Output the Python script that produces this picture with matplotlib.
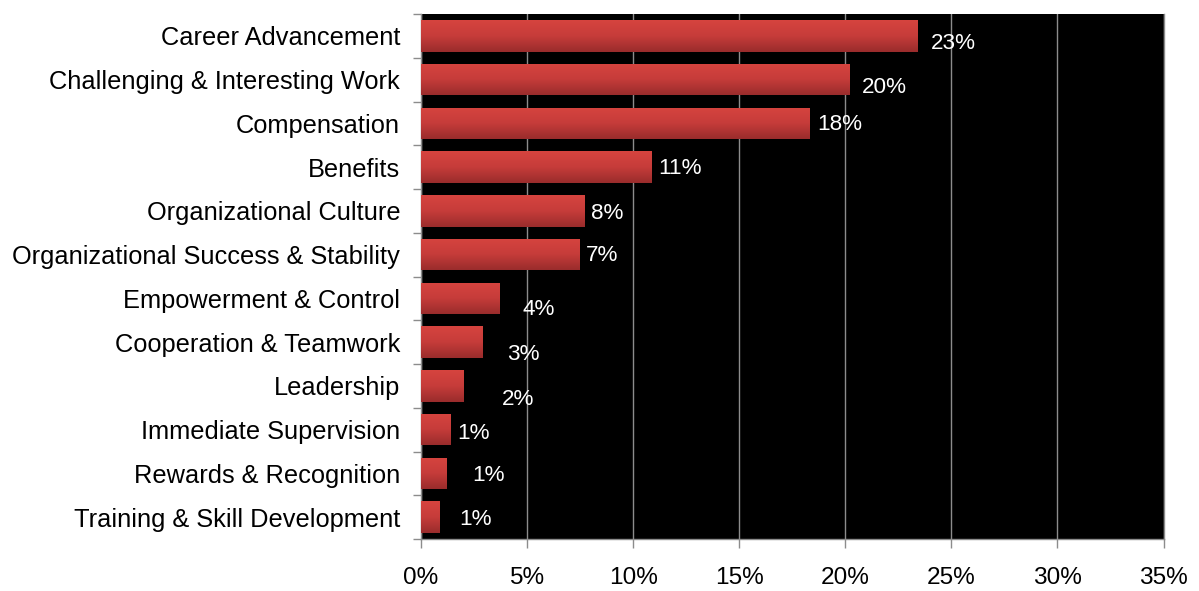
import numpy as np
import matplotlib
matplotlib.use("Agg")
import matplotlib.pyplot as plt
from matplotlib.colors import LinearSegmentedColormap

# Share of responses per factor (percent)
categories = [
    "Career Advancement",
    "Challenging & Interesting Work",
    "Compensation",
    "Benefits",
    "Organizational Culture",
    "Organizational Success & Stability",
    "Empowerment & Control",
    "Cooperation & Teamwork",
    "Leadership",
    "Immediate Supervision",
    "Rewards & Recognition",
    "Training & Skill Development",
]
values = [23.4, 20.2, 18.3, 10.85, 7.7, 7.45, 3.7, 2.9, 2.0, 1.4, 1.2, 0.85]
x_ticks = [0, 5, 10, 15, 20, 25, 30, 35]

# Hand-placed value label nudges (dx, dy in pixels; dy positive = downward)
label_nudges = [(13, 5), (12, 5), (8, -1), (7, -1.5), (7, 0), (7, -2),
                (23, 8.5), (25, 10), (38, 11), (7, 1), (26, 0), (20, 0)]

plt.rcParams["font.family"] = ["Liberation Sans", "DejaVu Sans"]

DPI = 100
fig = plt.figure(figsize=(11.99, 5.91), dpi=DPI, facecolor="white")
ax = fig.add_axes([421 / 1199, 52 / 591, 742.5 / 1199, 525 / 591])
ax.set_facecolor("black")

n = len(categories)
ypos = np.arange(n)[::-1]
bar_h = 0.72
bars = ax.barh(ypos, values, height=bar_h, color="#c03a38", zorder=2)

# Vertical red gradient inside each bar
grad_cmap = LinearSegmentedColormap.from_list("bar_grad", ["#d6443f", "#c63c3a", "#9a2c2c"])
grad = np.linspace(0, 1, 64).reshape(-1, 1)
for b in bars:
    x0, y0 = b.get_x(), b.get_y()
    w, h = b.get_width(), b.get_height()
    im = ax.imshow(grad, cmap=grad_cmap, origin="upper", aspect="auto",
                   extent=(x0, x0 + w, y0, y0 + h), zorder=3, interpolation="bilinear")
    im.set_clip_path(b)

ax.set_xlim(0, 35)
ax.set_ylim(-0.5, n - 0.5)

# Value labels
for b, v, (dx, dy) in zip(bars, values, label_nudges):
    ax.annotate(f"{v:.0f}%", xy=(b.get_width(), b.get_y() + b.get_height() / 2),
                xytext=(dx * 72 / DPI, -(dy + 2.5) * 72 / DPI), textcoords="offset points",
                ha="left", va="center", color="white", fontsize=16.2, zorder=5)

# Axes styling
grid_col = "#8c8c8c"
ax.set_xticks(x_ticks)
ax.set_xticklabels([f"{t}%" for t in x_ticks])
ax.xaxis.grid(True, color=grid_col, linewidth=1.0, zorder=1)
ax.set_axisbelow(True)
ax.tick_params(axis="x", direction="out", length=6.5, width=1, color=grid_col,
               labelsize=17.6, pad=14, labelcolor="black")

ax.set_yticks(ypos)
ax.set_yticklabels(categories, va="center_baseline")
ax.set_yticks(np.arange(-0.5, n, 1.0), minor=True)
ax.tick_params(axis="y", which="major", length=0, pad=15, labelsize=18.3, labelcolor="black")
ax.tick_params(axis="y", which="minor", direction="out", length=6, width=1, color=grid_col)

for side in ("left", "bottom", "right"):
    ax.spines[side].set_color(grid_col)
    ax.spines[side].set_linewidth(1.0)
ax.spines["top"].set_visible(False)

fig.savefig("out.png", dpi=DPI, facecolor="white")
